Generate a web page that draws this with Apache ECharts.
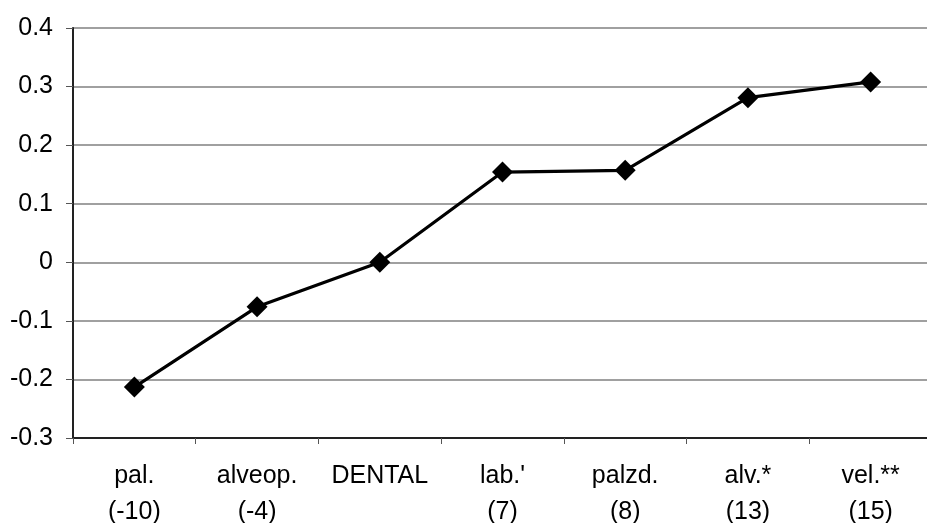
<!DOCTYPE html>
<html><head><meta charset="utf-8">
<script src="https://cdn.jsdelivr.net/npm/echarts@6/dist/echarts.min.js"></script>
<style>html,body{margin:0;padding:0;background:#fff}#c{width:927px;height:523px}</style>
</head><body><div id="c"></div>
<script>
const categories = ["pal.\n(-10)", "alveop.\n(-4)", "DENTAL", "lab.'\n(7)", "palzd.\n(8)", "alv.*\n(13)", "vel.**\n(15)"];
const values = [-0.213, -0.076, 0.0, 0.154, 0.157, 0.281, 0.308];
const yTicks = { min: -0.3, max: 0.4, interval: 0.1 };

const chart = echarts.init(document.getElementById('c'), null, { renderer: 'canvas' });
chart.setOption({
  animation: false,
  grid: { left: 73, top: 28, width: 859, height: 410, containLabel: false, outerBoundsMode: 'none' },
  xAxis: {
    type: 'category', data: categories, boundaryGap: true,
    axisLine: { onZero: false, lineStyle: { color: '#222', width: 2 } },
    axisTick: { show: true, length: 6, inside: false, lineStyle: { color: '#555', width: 1 } },
    axisLabel: { color: '#000', fontFamily: 'Liberation Sans, Arial', fontSize: 25, lineHeight: 36, margin: 20, interval: 0,
      verticalAlign: 'top' }
  },
  yAxis: {
    type: 'value', min: yTicks.min, max: yTicks.max, interval: yTicks.interval,
    axisLine: { show: true, lineStyle: { color: '#222', width: 2 } },
    axisTick: { show: true, length: 7, lineStyle: { color: '#555', width: 1 } },
    splitLine: { show: true, lineStyle: { color: '#808080', width: 1.5 } },
    axisLabel: { color: '#000', fontFamily: 'Liberation Sans, Arial', fontSize: 25, margin: 20,
      formatter: v => String(Math.round(v * 10) / 10) }
  },
  series: [{
    type: 'line', data: values,
    symbol: 'diamond', symbolSize: 21,
    lineStyle: { color: '#000', width: 3.2 },
    itemStyle: { color: '#000' }
  }]
});
</script></body></html>
